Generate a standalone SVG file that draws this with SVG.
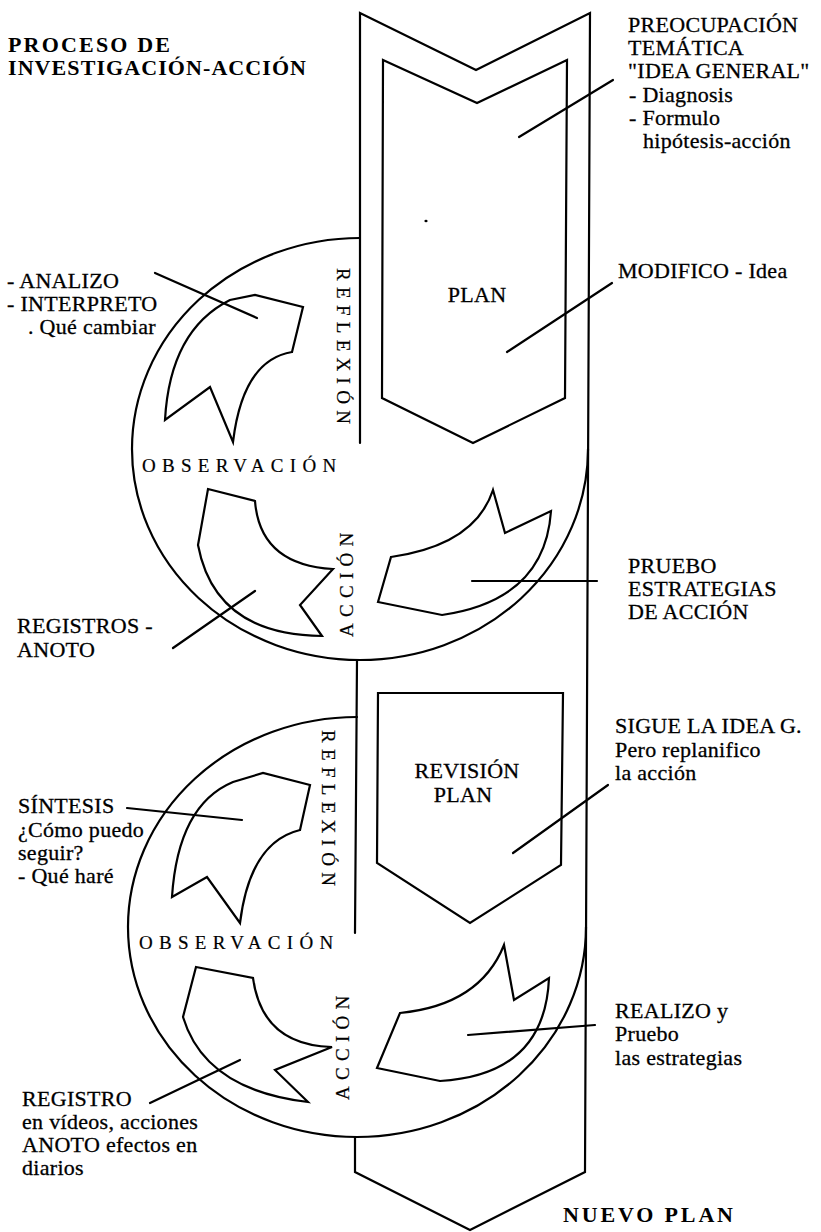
<svg xmlns="http://www.w3.org/2000/svg" width="821" height="1232" viewBox="0 0 821 1232">
<style>
.ln{stroke:#000;stroke-width:2.2;fill:none;stroke-linejoin:miter;stroke-linecap:round}
.t{font-family:"Liberation Serif","Times New Roman",serif;font-size:22px;letter-spacing:0.3px;fill:#000;stroke:#000;stroke-width:0.3}
.b{font-family:"Liberation Serif","Times New Roman",serif;font-weight:bold;fill:#000}
.v{font-family:"Liberation Serif","Times New Roman",serif;font-size:19px;letter-spacing:6.3px;fill:#000;stroke:#000;stroke-width:0.2}
</style>
<rect width="821" height="1232" fill="#fff"/>

<g id="title">
<text class="b" x="8" y="52" font-size="22" textLength="162" lengthAdjust="spacing">PROCESO DE</text>
<text class="b" x="8" y="75" font-size="22" textLength="298" lengthAdjust="spacing">INVESTIGACIÓN-ACCIÓN</text>
</g>

<g id="band">
<path class="ln" d="M360,443 L360,13 L476,70 L590,13 L585,1172 L470,1230 L355,1172 L355,1137"/>
<path class="ln" d="M357,660 L355,933"/>
</g>

<g id="plan">
<path class="ln" d="M383,60 L477,103 L567,60 L565,398 L473,443 L382,398 Z"/>
<text class="t" x="477" y="302" text-anchor="middle" font-size="23.5">PLAN</text>
<ellipse cx="426" cy="221" rx="1.6" ry="1.2" fill="#000"/>
</g>

<g id="ciclo1">
<path class="ln" d="M360,238 A228,211 0 1 0 588,449"/>
<text class="v" transform="translate(337,268) rotate(90)">REFLEXIÓN</text>
<text class="v" x="142" y="472">OBSERVACIÓN</text>
<text class="v" transform="translate(353,637) rotate(-90)">ACCIÓN</text>
</g>

<g id="flecha-analizo">
<path class="ln" d="M165,420 Q170,330 230,300 L255,295 L303,307 L292,352 Q243,360 233,442 L210,387 Z"/>
</g>
<g id="flecha-registros">
<path class="ln" d="M208,489 L255,501 Q260,565 333,569 L300,605 L322,636 Q215,635 198,545 Z"/>
</g>
<g id="flecha-pruebo">
<path class="ln" d="M378,602 L391,557 Q475,545 493,490 L505,533 L551,511 Q545,600 442,615 Z"/>
</g>

<g id="revision-plan">
<path class="ln" d="M378,693 L563,693 L561,865 L470,923 L377,863 Z"/>
<text class="t" x="467" y="778" text-anchor="middle" font-size="23.5">REVISIÓN</text>
<text class="t" x="463" y="802" text-anchor="middle" font-size="23.5">PLAN</text>
</g>

<g id="ciclo2">
<path class="ln" d="M357,717 A229,210 0 1 0 586,927"/>
<text class="v" transform="translate(322,730) rotate(90)">REFLEXIÓN</text>
<text class="v" x="139" y="949">OBSERVACIÓN</text>
<text class="v" transform="translate(349,1100) rotate(-90)">ACCIÓN</text>
</g>

<g id="flecha-sintesis">
<path class="ln" d="M172,897 Q178,805 233,782 L263,773 L310,785 L300,830 Q250,842 240,923 L207,877 Z"/>
</g>
<g id="flecha-registro">
<path class="ln" d="M196,967 L253,978 Q262,1045 332,1047 L275,1070 L308,1102 Q205,1090 183,1017 Z"/>
</g>
<g id="flecha-realizo">
<path class="ln" d="M377,1068 L400,1013 Q480,1005 504,945 L514,1000 L549,978 Q545,1075 440,1081 Z"/>
</g>

<g id="connectors">
<line class="ln" x1="519" y1="137" x2="613" y2="80"/>
<line class="ln" x1="507" y1="352" x2="612" y2="283"/>
<line class="ln" x1="155" y1="273" x2="257" y2="318"/>
<line class="ln" x1="173" y1="648" x2="255" y2="591"/>
<line class="ln" x1="472" y1="581" x2="597" y2="581"/>
<line class="ln" x1="127" y1="808" x2="242" y2="820"/>
<line class="ln" x1="513" y1="853" x2="608" y2="785"/>
<line class="ln" x1="150" y1="1103" x2="240" y2="1060"/>
<line class="ln" x1="468" y1="1035" x2="595" y2="1025"/>
</g>

<g id="label-preocupacion">
<text class="t" x="628" y="32">PREOCUPACIÓN</text>
<text class="t" x="628" y="55">TEMÁTICA</text>
<text class="t" x="628" y="78">"IDEA GENERAL"</text>
<text class="t" x="629" y="102">- Diagnosis</text>
<text class="t" x="629" y="125">- Formulo</text>
<text class="t" x="643" y="148">hipótesis-acción</text>
</g>
<g id="label-modifico">
<text class="t" x="618" y="278">MODIFICO - Idea</text>
</g>
<g id="label-analizo">
<text class="t" x="7" y="288">- ANALIZO</text>
<text class="t" x="7" y="311">- INTERPRETO</text>
<text class="t" x="28" y="334">. Qué cambiar</text>
</g>
<g id="label-registros">
<text class="t" x="17" y="633">REGISTROS -</text>
<text class="t" x="17" y="657">ANOTO</text>
</g>
<g id="label-pruebo">
<text class="t" x="628" y="573">PRUEBO</text>
<text class="t" x="628" y="596">ESTRATEGIAS</text>
<text class="t" x="628" y="619">DE ACCIÓN</text>
</g>
<g id="label-sigue">
<text class="t" x="615" y="733">SIGUE LA IDEA G.</text>
<text class="t" x="615" y="757">Pero replanifico</text>
<text class="t" x="615" y="780">la acción</text>
</g>
<g id="label-sintesis">
<text class="t" x="18" y="813">SÍNTESIS</text>
<text class="t" x="18" y="837">¿Cómo puedo</text>
<text class="t" x="18" y="860">seguir?</text>
<text class="t" x="18" y="883">- Qué haré</text>
</g>
<g id="label-realizo">
<text class="t" x="615" y="1018">REALIZO y</text>
<text class="t" x="615" y="1041">Pruebo</text>
<text class="t" x="615" y="1065">las estrategias</text>
</g>
<g id="label-registro">
<text class="t" x="22" y="1106">REGISTRO</text>
<text class="t" x="22" y="1129">en vídeos, acciones</text>
<text class="t" x="22" y="1152">ANOTO efectos en</text>
<text class="t" x="22" y="1175">diarios</text>
</g>
<g id="nuevo-plan">
<text class="b" x="563" y="1222" font-size="22" textLength="170" lengthAdjust="spacing">NUEVO  PLAN</text>
</g>
</svg>
